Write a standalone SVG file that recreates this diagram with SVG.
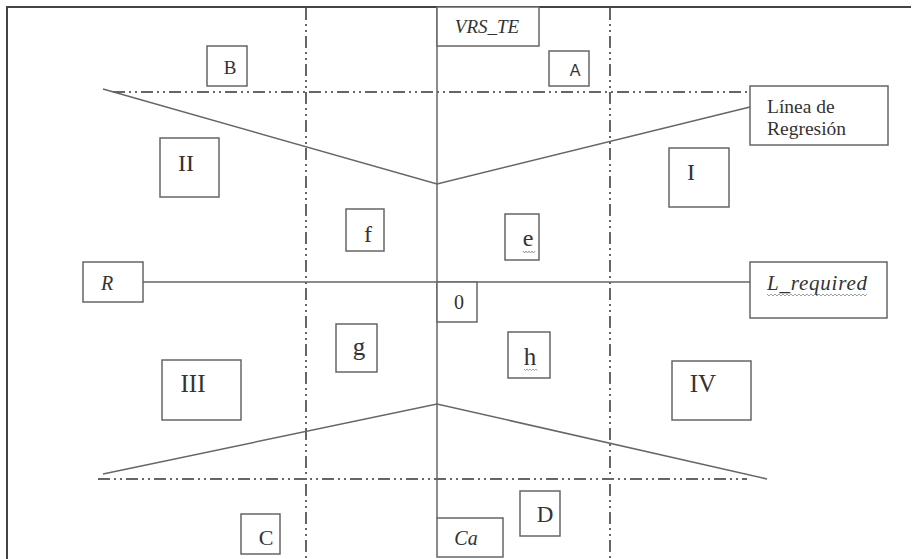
<svg xmlns="http://www.w3.org/2000/svg" width="917" height="559" viewBox="0 0 917 559">
<style>
.bg{fill:#ffffff}
.box{fill:#ffffff;stroke:#666;stroke-width:1.5}
.ln{fill:none;stroke:#666;stroke-width:1.5}
.dd{fill:none;stroke:#666;stroke-width:2;stroke-dasharray:12 4 2 4 2 4}
.frame{fill:none;stroke:#444;stroke-width:2}
.t{font-family:"Liberation Serif","Times New Roman",serif;fill:#333}
.it{font-style:italic}
.sq{fill:none;stroke:#888;stroke-width:0.8}
</style>
<rect class="bg" x="0" y="0" width="917" height="559"/>
<g id="frame">
<polyline class="frame" points="7,559 7,7 911,7"/>
</g>
<g id="connectors">
<line class="dd" x1="306" y1="8" x2="306" y2="559"/>
<line class="dd" x1="610" y1="8" x2="610" y2="559"/>
<line class="dd" x1="113" y1="92" x2="748" y2="92"/>
<line class="dd" x1="98" y1="479" x2="747" y2="479"/>
<line class="ln" x1="437" y1="8" x2="437" y2="518"/>
<line class="ln" x1="143" y1="282" x2="750" y2="282"/>
<polyline class="ln" points="103,89 437,184 750,107"/>
<polyline class="ln" points="103,474 437,404 767,479"/>
</g>
<g id="node-B"><rect class="box" x="207" y="46" width="40" height="40"/><text class="t" x="230" y="74" font-size="19" text-anchor="middle">B</text></g>
<g id="node-VRS_TE"><rect class="box" x="437" y="7" width="102" height="39"/><text class="t it" x="487" y="33" font-size="19" text-anchor="middle">VRS_TE</text></g>
<g id="node-A"><rect class="box" x="549" y="51" width="40" height="35"/><text x="575" y="76" font-size="16" text-anchor="middle" font-family="Liberation Sans, Arial, sans-serif" fill="#333">A</text></g>
<g id="node-linea"><rect class="box" x="750" y="86" width="138" height="59"/><text class="t" x="767" y="113" font-size="19.5">Línea de</text><text class="t" x="767" y="135" font-size="19.5">Regresión</text></g>
<g id="node-II"><rect class="box" x="160" y="138" width="59" height="59"/><text class="t" x="186" y="171" font-size="24" text-anchor="middle">II</text></g>
<g id="node-I"><rect class="box" x="669" y="148" width="60" height="59"/><text class="t" x="691" y="180" font-size="24" text-anchor="middle">I</text></g>
<g id="node-f"><rect class="box" x="346" y="209" width="38" height="42"/><text class="t" x="368" y="242" font-size="24" text-anchor="middle">f</text></g>
<g id="node-e"><rect class="box" x="505" y="214" width="34" height="46"/><text class="t" x="528" y="246" font-size="24" text-anchor="middle">e</text><polyline class="sq" points="523,251 524.5,253 526,251 527.5,253 529,251 530.5,253 532,251 533.5,253 535,251"/></g>
<g id="node-R"><rect class="box" x="83" y="262" width="60" height="40"/><text class="t it" x="107" y="290" font-size="20" text-anchor="middle">R</text></g>
<g id="node-L_required"><rect class="box" x="750" y="262" width="137" height="56"/><text class="t it" x="767" y="290" font-size="21" textLength="100">L_required</text><polyline class="sq" points="767,294 769,296 771,294 773,296 775,294 777,296 779,294 781,296 783,294 785,296 787,294 789,296 791,294 793,296 795,294 797,296 799,294 801,296 803,294 805,296 807,294 809,296 811,294 813,296 815,294 817,296 819,294 821,296 823,294 825,296 827,294 829,296 831,294 833,296 835,294 837,296 839,294 841,296 843,294 845,296 847,294 849,296 851,294 853,296 855,294 857,296 859,294 861,296 863,294 865,296 867,294"/></g>
<g id="node-0"><rect class="box" x="437" y="282" width="40" height="40"/><text class="t" x="459" y="309" font-size="20" text-anchor="middle">0</text></g>
<g id="node-g"><rect class="box" x="336" y="324" width="41" height="48"/><text class="t" x="359" y="355" font-size="25" text-anchor="middle">g</text></g>
<g id="node-h"><rect class="box" x="508" y="332" width="42" height="46"/><text class="t" x="530" y="365" font-size="25" text-anchor="middle">h</text><polyline class="sq" points="524,369 525.5,370.5 527,369 528.5,370.5 530,369 531.5,370.5 533,369 534.5,370.5 536,369 537.5,370.5"/></g>
<g id="node-III"><rect class="box" x="162" y="360" width="79" height="60"/><text class="t" x="193" y="392" font-size="25" text-anchor="middle">III</text></g>
<g id="node-IV"><rect class="box" x="672" y="361" width="79" height="59"/><text class="t" x="703" y="392" font-size="25" text-anchor="middle">IV</text></g>
<g id="node-C"><rect class="box" x="241" y="514" width="39" height="40"/><text class="t" x="266" y="545" font-size="22" text-anchor="middle">C</text></g>
<g id="node-D"><rect class="box" x="520" y="491" width="40" height="45"/><text class="t" x="545" y="522" font-size="23" text-anchor="middle">D</text></g>
<g id="node-Ca"><rect class="box" x="437" y="518" width="66" height="39"/><text class="t it" x="466" y="545" font-size="20" text-anchor="middle">Ca</text></g>
</svg>
